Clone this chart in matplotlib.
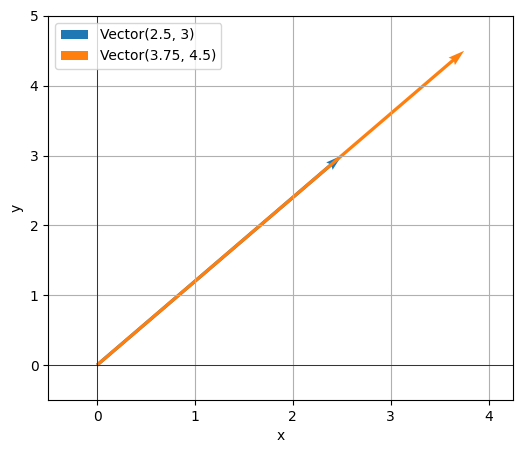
import matplotlib
matplotlib.use("Agg")
import matplotlib.pyplot as plt

# vectors drawn from the origin
vectors = [(2.5, 3), (3.75, 4.5)]
labels = ["Vector(2.5, 3)", "Vector(3.75, 4.5)"]
colors = ["C0", "C1"]

fig = plt.figure(figsize=(5.23, 4.53), dpi=100)
ax = fig.add_axes([0.092, 0.117, 0.889, 0.848])

ax.axhline(0, color='black', linewidth=0.5)
ax.axvline(0, color='black', linewidth=0.5)

for (vx, vy), lab, c in zip(vectors, labels, colors):
    ax.quiver(0, 0, vx, vy, angles='xy', scale_units='xy', scale=1,
              color=c, label=lab, width=0.007)

ax.set_xlim(-0.5, 4.25)
ax.set_ylim(-0.5, 5)
ax.set_xlabel('x')
ax.set_ylabel('y')
ax.grid(True)
ax.legend(loc='upper left')

fig.savefig('out.png', dpi=100)
